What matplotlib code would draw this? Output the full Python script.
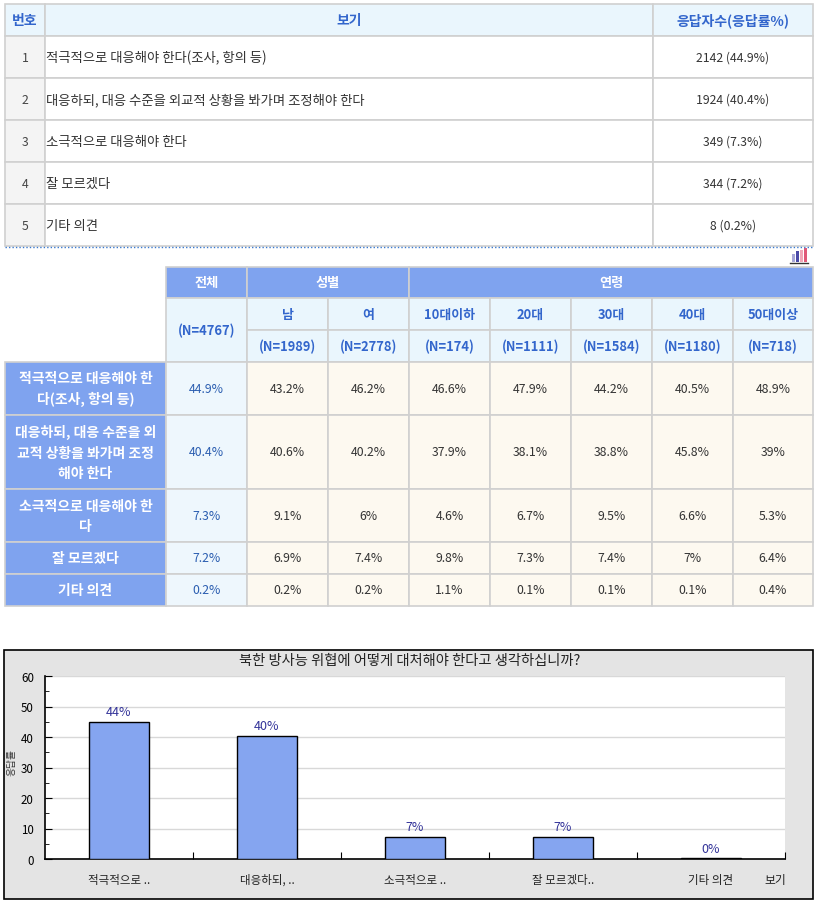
import matplotlib
matplotlib.use("Agg")
from matplotlib import pyplot as plt
from matplotlib.patches import Rectangle

plt.rcParams['font.family'] = ['Noto Sans CJK KR', 'DejaVu Sans']

# 설문 보기와 응답
options = ["적극적으로 대응해야 한다(조사, 항의 등)",
           "대응하되, 대응 수준을 외교적 상황을 봐가며 조정해야 한다",
           "소극적으로 대응해야 한다",
           "잘 모르겠다",
           "기타 의견"]
counts = [2142, 1924, 349, 344, 8]
rates = [44.9, 40.4, 7.3, 7.2, 0.2]

row_labels = ["적극적으로 대응해야 한\n다(조사, 항의 등)",
              "대응하되, 대응 수준을 외\n교적 상황을 봐가며 조정\n해야 한다",
              "소극적으로 대응해야 한\n다",
              "잘 모르겠다",
              "기타 의견"]
short_labels = ["적극적으로 ..", "대응하되, ..", "소극적으로 ..", "잘 모르겠다..", "기타 의견"]

groups = ["전체", "남", "여", "10대이하", "20대", "30대", "40대", "50대이상"]
group_n = [4767, 1989, 2778, 174, 1111, 1584, 1180, 718]
total = [44.9, 40.4, 7.3, 7.2, 0.2]
male = [43.2, 40.6, 9.1, 6.9, 0.2]
female = [46.2, 40.2, 6, 7.4, 0.2]
age_10 = [46.6, 37.9, 4.6, 9.8, 1.1]
age_20 = [47.9, 38.1, 6.7, 7.3, 0.1]
age_30 = [44.2, 38.8, 9.5, 7.4, 0.1]
age_40 = [40.5, 45.8, 6.6, 7, 0.1]
age_50 = [48.9, 39, 5.3, 6.4, 0.4]
cross = [total, male, female, age_10, age_20, age_30, age_40, age_50]

title = "북한 방사능 위협에 어떻게 대처해야 한다고 생각하십니까?"

HEAD_BG = '#eaf6fd'
HEAD_FG = '#3366cc'
DARK_BG = '#7fa3ef'
CREAM = '#fdf9f0'
LINE = '#d0d0d0'
TXT = '#333333'


def cell(ax, x0, y0, x1, y1, fc, text=None, color=TXT, bold=False, ha='center', size=8.8, ls=1.2):
    ax.add_patch(Rectangle((x0, y0), x1 - x0, y1 - y0, fc=fc, ec=LINE, lw=1.2))
    if text is not None:
        tx = (x0 + x1) / 2 if ha == 'center' else x0 + 1
        ax.text(tx, (y0 + y1) / 2, text, ha=ha, va='center', color=color, fontsize=size,
                fontweight='bold' if bold else 'normal', linespacing=ls)


fig = plt.figure(figsize=(8.17, 9.04), dpi=100)
bg = fig.add_axes([0, 0, 1, 1])
bg.set_xlim(0, 817)
bg.set_ylim(904, 0)
bg.axis('off')

# --- 표 1: 응답자수 ---
cols1 = [5, 45, 653, 813]
rows1 = [5, 37, 79, 121, 163, 205, 247]
cell(bg, cols1[0], rows1[0], cols1[1], rows1[1], HEAD_BG, "번호", HEAD_FG, True, size=10)
cell(bg, cols1[1], rows1[0], cols1[2], rows1[1], HEAD_BG, "보기", HEAD_FG, True, size=10)
cell(bg, cols1[2], rows1[0], cols1[3], rows1[1], HEAD_BG, "응답자수(응답률%)", HEAD_FG, True, size=10)
for i, opt in enumerate(options):
    y0, y1 = rows1[i + 1], rows1[i + 2]
    cell(bg, cols1[0], y0, cols1[1], y1, '#f4f4f4', str(i + 1), '#444444')
    cell(bg, cols1[1], y0, cols1[2], y1, 'white', opt, TXT, ha='left', size=9.6)
    cell(bg, cols1[2], y0, cols1[3], y1, 'white', f"{counts[i]} ({rates[i]}%)", TXT)
bg.plot([5, 813], [247.5, 247.5], color='#3a7ad0', lw=1, ls=(0, (1, 1.5)))

# 작은 차트 아이콘
for k, (c, h) in enumerate(zip(['#a8a8d8', '#4a4aa8', '#f0a8b8', '#e05878'], [8, 11, 12, 14])):
    bg.add_patch(Rectangle((792 + k * 4, 263 - h), 3.5, h, fc=c, ec='none'))
bg.plot([790, 808], [263.5, 263.5], color='#333333', lw=1)

# --- 표 2: 교차표 ---
cols2 = [5, 166, 247, 328, 409, 490, 571, 652, 733, 813]
rows2 = [268, 299, 331, 363, 416, 490, 543, 575, 607]
cell(bg, cols2[1], rows2[0], cols2[2], rows2[1], DARK_BG, "전체", 'white', True, size=9.5)
cell(bg, cols2[2], rows2[0], cols2[4], rows2[1], DARK_BG, "성별", 'white', True, size=9.5)
cell(bg, cols2[4], rows2[0], cols2[9], rows2[1], DARK_BG, "연령", 'white', True, size=9.5)
cell(bg, cols2[1], rows2[1], cols2[2], rows2[3], HEAD_BG, f"(N={group_n[0]})", HEAD_FG, True, size=9.3)
for j in range(1, len(groups)):
    cell(bg, cols2[j + 1], rows2[1], cols2[j + 2], rows2[2], HEAD_BG, groups[j], HEAD_FG, True, size=9.3)
    cell(bg, cols2[j + 1], rows2[2], cols2[j + 2], rows2[3], HEAD_BG, f"(N={group_n[j]})", HEAD_FG, True, size=9.3)
for i, lab in enumerate(row_labels):
    y0, y1 = rows2[i + 3], rows2[i + 4]
    cell(bg, cols2[0], y0, cols2[1], y1, DARK_BG, lab, 'white', True, size=10, ls=1.55)
    for j, vals in enumerate(cross):
        fc = '#eef7fd' if j == 0 else CREAM
        fg = '#2a5db0' if j == 0 else TXT
        cell(bg, cols2[j + 1], y0, cols2[j + 2], y1, fc, f"{vals[i]:g}%", fg)

# --- 막대 그래프 ---
bg.add_patch(Rectangle((4.5, 650.5), 809, 249, fc='#e4e4e4', ec='black', lw=1.2))
bg.text(410, 661, title, ha='center', va='center', fontsize=10.3, color='#222222')
bg.text(12, 763, "응답률", ha='center', va='center', rotation=90, fontsize=7, color='#333333')
bg.text(775, 881, "보기", ha='center', va='center', fontsize=8.5, color='#222222')

ax = fig.add_axes([45 / 817, (904 - 860) / 904, 740 / 817, 183 / 904])
ax.set_facecolor('white')
x = list(range(len(rates)))
bars = ax.bar(x, rates, width=0.4, color='#85a5f0', edgecolor='black', linewidth=1, zorder=3)
for xi, v in zip(x, rates):
    ax.text(xi, v + 1.2, f"{int(v)}%", ha='center', va='bottom', color='#333399', fontsize=9)
ax.set_xlim(-0.5, 4.5)
ax.set_ylim(0, 60)
ax.set_yticks(range(0, 61, 10))
ax.set_yticks(range(0, 61, 5), minor=True)
ax.yaxis.grid(True, color='#d8d8d8', lw=1)
ax.set_axisbelow(True)
ax.set_xticks([0.5, 1.5, 2.5, 3.5, 4.5])
ax.set_xticklabels([])
ax.set_xticks(x, minor=True)
ax.set_xticklabels(short_labels, minor=True, fontsize=8.3, color='#222222')
ax.tick_params(axis='x', which='major', direction='in', length=5)
ax.tick_params(axis='x', which='minor', length=0, pad=10)
ax.tick_params(axis='y', which='major', direction='in', length=5, labelsize=8.3, pad=8)
ax.tick_params(axis='y', which='minor', direction='in', length=3)
for s in ['top', 'right']:
    ax.spines[s].set_visible(False)
ax.spines['left'].set_linewidth(1.2)
ax.spines['bottom'].set_linewidth(1.2)

fig.savefig('out.png', dpi=100)
